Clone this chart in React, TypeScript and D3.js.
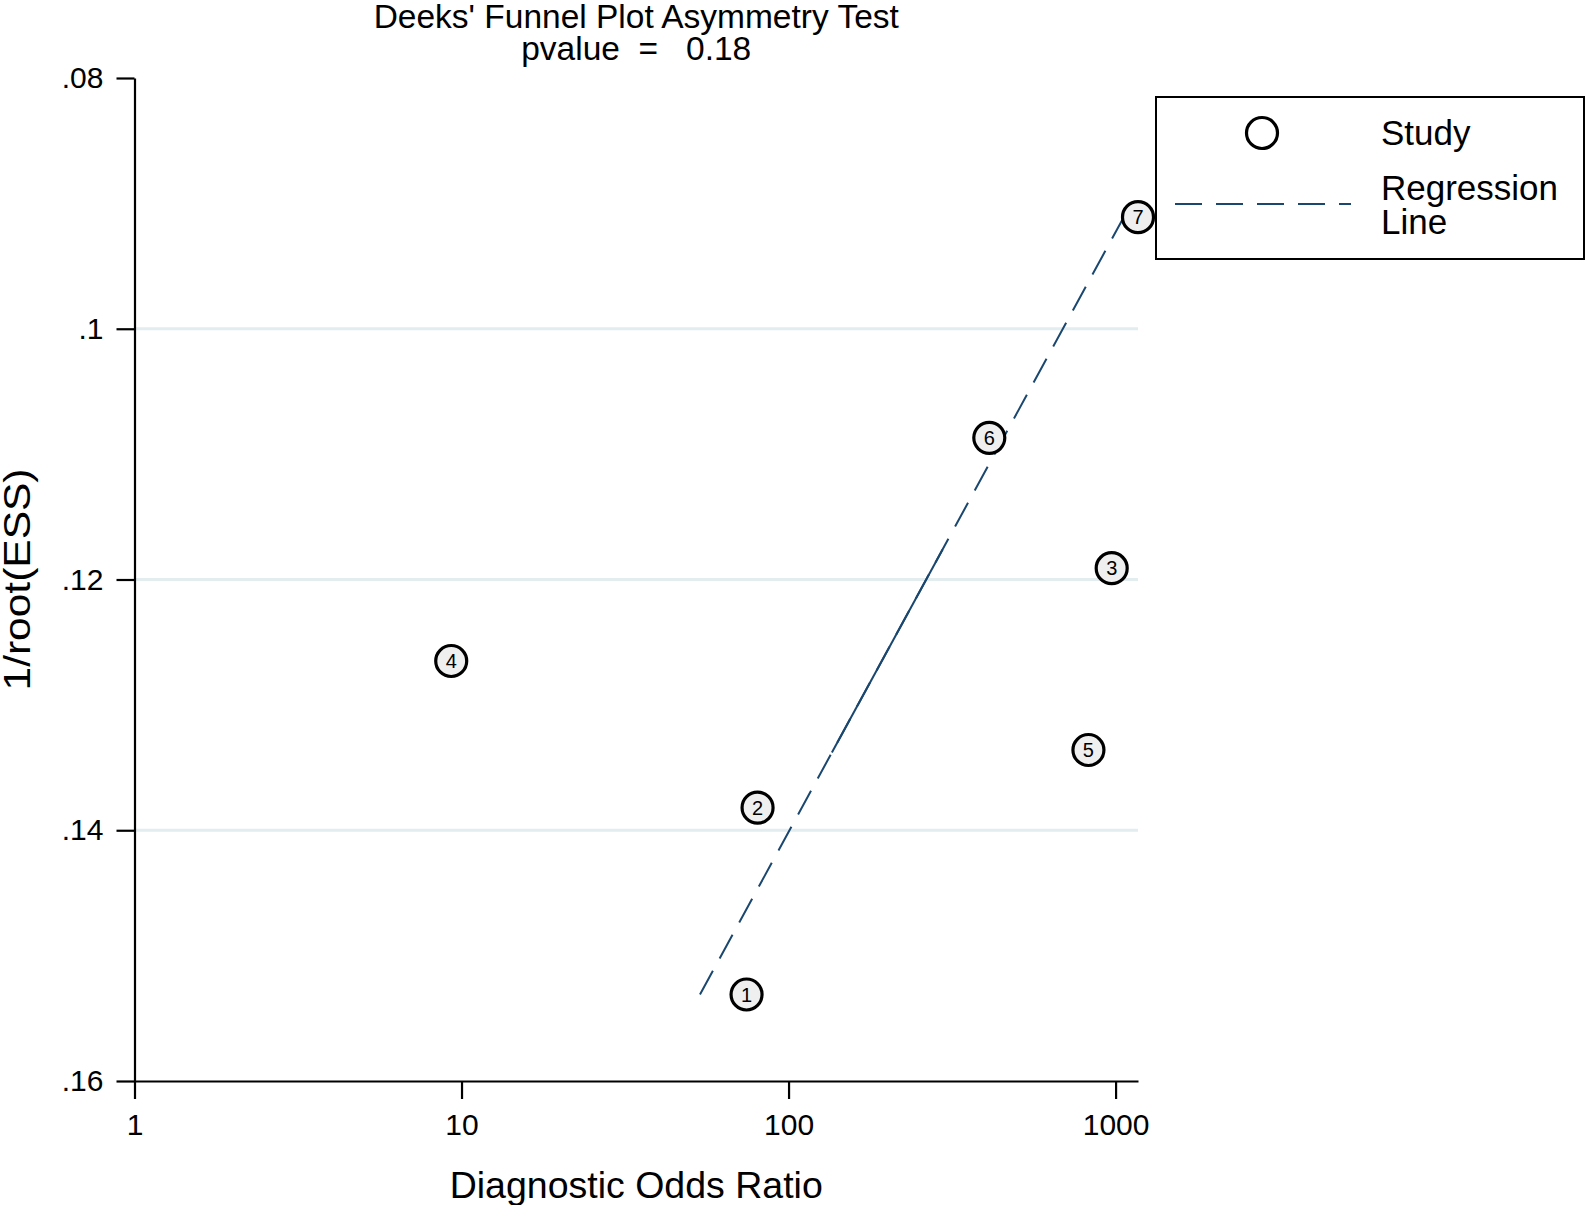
import React, { Component } from "react";
import * as d3 from "d3";

// Deeks' funnel plot data
const studyIds = [1, 2, 3, 4, 5, 6, 7];
const studyDOR = [74.4, 80.4, 973, 9.3, 826, 411, 1171];
const studyInvRootESS = [0.1531, 0.1382, 0.1191, 0.1265, 0.1336, 0.1087, 0.0911];

// fitted regression line, ends at the extreme 1/root(ESS) values
const regressionDOR = [53.6, 1059];
const regressionInvRootESS = [0.1531, 0.0911];
// stretch of the fitted line that the original export drew solid
const solidInvRootESS = [0.1176, 0.1338];

const xTicks = [1, 10, 100, 1000];
const yTicks = [0.08, 0.1, 0.12, 0.14, 0.16];
const yTickLabels = [".08", ".1", ".12", ".14", ".16"];
const gridTicks = [0.1, 0.12, 0.14];

const titleLines = ["Deeks' Funnel Plot Asymmetry Test", "pvalue  =   0.18"];
const xTitle = "Diagnostic Odds Ratio";
const yTitle = "1/root(ESS)";
const legendLabels = ["Study", "Regression", "Line"];

const FONT = "'Liberation Sans', Arial, Helvetica, sans-serif";
const NAVY = "#1a476f";

class FunnelPlot extends Component<any> {
  svgRef = React.createRef<SVGSVGElement>();

  initialize() {
    const { width, height, margin } = this.props;
    const svg = d3.select(this.svgRef.current);
    svg.html("");

    const x = d3
      .scaleLog()
      .domain([1, d3.max(studyDOR)])
      .range([margin.left, width - margin.right]);
    const y = d3
      .scaleLinear()
      .domain([0.08, 0.16])
      .range([margin.top, height - margin.bottom]);

    svg
      .append("rect")
      .attr("width", width)
      .attr("height", height)
      .attr("fill", "white");

    // grid
    svg
      .append("g")
      .selectAll("line")
      .data(gridTicks)
      .join("line")
      .attr("x1", x.range()[0])
      .attr("x2", x.range()[1])
      .attr("y1", d => y(d))
      .attr("y2", d => y(d))
      .attr("stroke", "#e3edef")
      .attr("stroke-width", 3);

    // axes
    const yAxis = d3
      .axisLeft(y)
      .tickValues(yTicks)
      .tickFormat((d, i) => yTickLabels[i])
      .tickSize(18)
      .tickSizeOuter(0)
      .tickPadding(13);
    const xAxis = d3
      .axisBottom(x)
      .tickValues(xTicks)
      .tickFormat(d3.format("d"))
      .tickSize(18)
      .tickSizeOuter(0)
      .tickPadding(15);

    const gy = svg
      .append("g")
      .attr("transform", `translate(${x.range()[0]},0)`)
      .call(yAxis);
    const gx = svg
      .append("g")
      .attr("transform", `translate(0,${y.range()[1]})`)
      .call(xAxis);
    [gx, gy].forEach(g => {
      g.selectAll("path, line").attr("stroke", "black").attr("stroke-width", 2.2);
      g.selectAll("text")
        .attr("fill", "black")
        .style("font-family", FONT)
        .style("font-size", "30px");
    });

    // regression line
    const lx = d3.scaleLinear().domain(regressionInvRootESS).range(regressionDOR.map(Math.log10));
    const line = d3
      .line<number>()
      .x(d => x(Math.pow(10, lx(d))))
      .y(d => y(d));
    svg
      .append("path")
      .attr("d", line(regressionInvRootESS))
      .attr("fill", "none")
      .attr("stroke", NAVY)
      .attr("stroke-width", 2)
      .attr("stroke-dasharray", "27 14");
    svg
      .append("path")
      .attr("d", line(solidInvRootESS))
      .attr("fill", "none")
      .attr("stroke", NAVY)
      .attr("stroke-width", 2);

    // study markers
    const pts = svg
      .append("g")
      .selectAll("g")
      .data(studyIds)
      .join("g")
      .attr("transform", (d, i) => `translate(${x(studyDOR[i])},${y(studyInvRootESS[i])})`);
    pts
      .append("circle")
      .attr("r", 15.5)
      .attr("fill", "#efefef")
      .attr("stroke", "black")
      .attr("stroke-width", 3.2);
    pts
      .append("text")
      .text(d => d)
      .attr("text-anchor", "middle")
      .attr("dy", "0.36em")
      .style("font-family", FONT)
      .style("font-size", "20px");

    // titles
    const cx = (x.range()[0] + x.range()[1]) / 2;
    svg
      .append("g")
      .selectAll("text")
      .data(titleLines)
      .join("text")
      .attr("x", cx)
      .attr("y", (d, i) => 28 + i * 32)
      .attr("text-anchor", "middle")
      .style("white-space", "pre")
      .style("font-family", FONT)
      .style("font-size", "33.5px")
      .text(d => d);
    svg
      .append("text")
      .attr("x", cx)
      .attr("y", 1198)
      .attr("text-anchor", "middle")
      .style("font-family", FONT)
      .style("font-size", "37.5px")
      .text(xTitle);
    svg
      .append("text")
      .attr("transform", `translate(30,${(y.range()[0] + y.range()[1]) / 2}) rotate(-90)`)
      .attr("text-anchor", "middle")
      .attr("textLength", 222)
      .attr("lengthAdjust", "spacingAndGlyphs")
      .style("font-family", FONT)
      .style("font-size", "36px")
      .text(yTitle);

    // legend
    const lg = svg.append("g");
    lg.append("rect")
      .attr("x", 1156)
      .attr("y", 97)
      .attr("width", 428)
      .attr("height", 162)
      .attr("fill", "white")
      .attr("stroke", "black")
      .attr("stroke-width", 2);
    lg.append("circle")
      .attr("cx", 1262)
      .attr("cy", 133)
      .attr("r", 15.5)
      .attr("fill", "white")
      .attr("stroke", "black")
      .attr("stroke-width", 3.2);
    lg.append("line")
      .attr("x1", 1175)
      .attr("x2", 1351)
      .attr("y1", 204)
      .attr("y2", 204)
      .attr("stroke", NAVY)
      .attr("stroke-width", 2)
      .attr("stroke-dasharray", "27 14");
    lg.selectAll("text.lbl")
      .data(legendLabels)
      .join("text")
      .attr("class", "lbl")
      .attr("x", 1381)
      .attr("y", (d, i) => [145, 200, 234][i])
      .style("font-family", FONT)
      .style("font-size", "35px")
      .text(d => d);
  }
  componentDidMount() {
    this.initialize();
  }
  componentDidUpdate() {
    this.initialize();
  }
  render() {
    return (
      <svg
        ref={this.svgRef}
        width={this.props.width}
        height={this.props.height}
        style={{ position: "absolute", left: 0, top: 0, display: "block" }}
      />
    );
  }
}

FunnelPlot.defaultProps = {
  width: 1586,
  height: 1205,
  margin: { top: 78, right: 448, bottom: 124, left: 134.5 }
};

export default function App() {
  return <FunnelPlot />;
}
